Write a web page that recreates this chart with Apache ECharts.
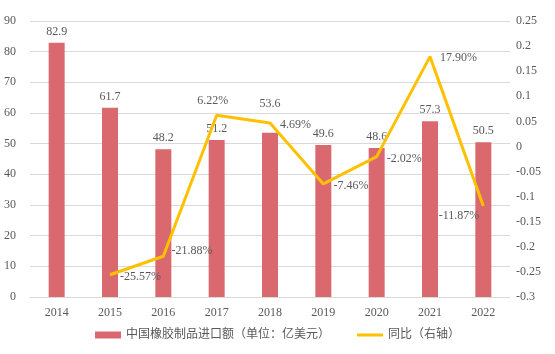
<!DOCTYPE html>
<html>
<head>
<meta charset="utf-8">
<script src="https://cdn.jsdelivr.net/npm/echarts@6/dist/echarts.min.js"></script>
<style>
  html, body { margin: 0; padding: 0; background: #fff; }
  #chart { width: 555px; height: 354px; }
</style>
</head>
<body>
<div id="chart"></div>
<script>
const years = ['2014', '2015', '2016', '2017', '2018', '2019', '2020', '2021', '2022']
const importValues = [82.9, 61.7, 48.2, 51.2, 53.6, 49.6, 48.6, 57.3, 50.5]
// 同比，2014 年无数据
const yoy = [null, -0.2557, -0.2188, 0.0622, 0.0469, -0.0746, -0.0202, 0.1790, -0.1187]
const labelPos = [null, 'right', 'right', 'top', 'right', 'right', 'right', 'right', 'left']
const labelShift = [null, [2, 2], [0, -5], [-4, 0], [2, 2], [2, 2], [2, 2], [2, 1], [4, 10]]
// 2018 年柱标签被折线挡住，往上挪
const barLabelShift = [0, 0, 0, 0, -18, 0, 0, 0, 0]

const fontFam = '"Liberation Serif", "Noto Sans CJK SC", serif'
const txt = '#595959'

const chart = echarts.init(document.getElementById('chart'))
chart.setOption({
  animation: false,
  textStyle: { fontFamily: fontFam, color: txt },
  grid: { left: 30, right: 45, top: 21, bottom: 57 },
  legend: {
    bottom: 8,
    left: 'center',
    itemGap: 27,
    itemWidth: 26,
    itemHeight: 7,
    textStyle: { fontFamily: fontFam, color: txt, fontSize: 12 },
    data: [
      { name: '中国橡胶制品进口额（单位：亿美元）', icon: 'rect' },
      { name: '同比（右轴）', icon: 'path://M0,0h26v3H0z' }
    ]
  },
  xAxis: {
    type: 'category',
    data: years,
    axisTick: { show: false },
    axisLine: { lineStyle: { color: '#d9d9d9' } },
    axisLabel: { color: txt, fontSize: 12, fontFamily: fontFam, margin: 10 }
  },
  yAxis: [
    {
      type: 'value',
      min: 0, max: 90, interval: 10,
      axisLabel: { color: txt, fontSize: 12, fontFamily: fontFam, margin: 14 },
      splitLine: { lineStyle: { color: '#d9d9d9' } }
    },
    {
      type: 'value',
      min: -0.3, max: 0.25, interval: 0.05,
      axisLabel: {
        color: txt, fontSize: 12, fontFamily: fontFam, margin: 6,
        formatter: v => String(Math.round(v * 100) / 100)
      },
      splitLine: { show: false }
    }
  ],
  series: [
    {
      name: '中国橡胶制品进口额（单位：亿美元）',
      type: 'bar',
      data: importValues,
      barWidth: 16,
      itemStyle: { color: '#D9696E' },
      label: { show: true, position: 'top', color: txt, fontSize: 12, fontFamily: fontFam, distance: 5 },
      labelLayout: p => ({ dy: barLabelShift[p.dataIndex] })
    },
    {
      name: '同比（右轴）',
      type: 'line',
      yAxisIndex: 1,
      symbol: 'circle',
      symbolSize: 0.1,
      showSymbol: true,
      connectNulls: false,
      lineStyle: { color: '#FFC000', width: 3 },
      itemStyle: { color: '#FFC000' },
      label: { show: true },
      labelLayout: p => ({
        dx: labelShift[p.dataIndex] ? labelShift[p.dataIndex][0] : 0,
        dy: labelShift[p.dataIndex] ? labelShift[p.dataIndex][1] : 0,
        moveOverlap: false,
        hideOverlap: false
      }),
      data: yoy.map((v, i) => v === null ? null : {
        value: v,
        label: {
          show: true,
          position: labelPos[i],
          distance: 8,
          color: txt,
          fontSize: 12,
          fontFamily: fontFam,
          formatter: p => (p.value * 100).toFixed(2) + '%'
        }
      })
    }
  ]
})
</script>
</body>
</html>
